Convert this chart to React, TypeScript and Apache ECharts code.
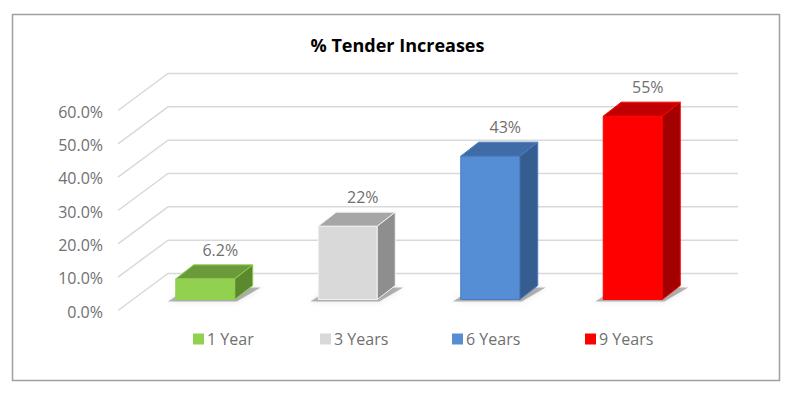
import React, { useEffect, useRef } from "react";
import * as echarts from "echarts";

const categories = ["1 Year", "3 Years", "6 Years", "9 Years"];
const values = [0.062, 0.22, 0.43, 0.55];
const valueLabels = ["6.2%", "22%", "43%", "55%"];
const yTicks = [0, 0.1, 0.2, 0.3, 0.4, 0.5, 0.6];
const yTickLabels = ["0.0%", "10.0%", "20.0%", "30.0%", "40.0%", "50.0%", "60.0%"];
const frontColors = ["#92D050", "#D9D9D9", "#558ED5", "#FF0000"];
const topColors = ["#6A9A3A", "#A6A6A6", "#3F6CA6", "#C00000"];
const sideColors = ["#5B8A2E", "#8E8E8E", "#365D90", "#A30000"];
const edgeColors = ["#92D050", "#F2F2F2", "#4A7CC0", "#FF0000"];
const title = "% Tender Increases";

const FONT = "'Open Sans', 'Noto Sans', sans-serif";
const TEXT_GRAY = "#707070";

export default function App() {
  const ref = useRef<HTMLDivElement>(null);
  useEffect(() => {
    if (!ref.current) return;
    const chart = echarts.init(ref.current, null, { renderer: "svg" });

    const FRONT_DX = -16, FRONT_DY = 11;
    const BACK_DX = 34, BACK_DY = -26;
    const HALF_W = 29.5, DEPTH_X = 18, DEPTH_Y = -14;

    const gridSeries: any = {
      type: "custom",
      name: "grid",
      z: 1,
      clip: false,
      silent: true,
      encode: { x: 0, y: 1 },
      data: yTicks.map((v, i) => [0, v, i]),
      renderItem: (params: any, api: any) => {
        const cs = params.coordSys;
        const v = api.value(1);
        const idx = api.value(2);
        const y = api.coord([0, v])[1];
        const fx = cs.x + FRONT_DX, fy = y + FRONT_DY;
        const bx = cs.x + BACK_DX, by = y + BACK_DY;
        const rx = cs.x + cs.width + BACK_DX;
        return {
          type: "group",
          children: [
            {
              type: "polyline",
              shape: { points: [[fx, fy], [bx, by], [rx, by]] },
              style: { stroke: "#D9D9D9", lineWidth: 1.5, fill: null },
            },
            {
              type: "text",
              x: fx - 15,
              y: fy + 1,
              style: {
                text: yTickLabels[idx],
                align: "right",
                verticalAlign: "middle",
                fill: TEXT_GRAY,
                font: `16px ${FONT}`,
              },
            },
          ],
        };
      },
    };

    const barSeries = categories.map((name, i) => ({
      type: "custom",
      name,
      z: 2,
      clip: false,
      itemStyle: { color: frontColors[i] },
      encode: { x: 0, y: 1 },
      data: [[i, values[i]]],
      renderItem: (params: any, api: any) => {
        const c = api.value(0);
        const top = api.coord([c, api.value(1)]);
        const base = api.coord([c, 0]);
        const l = top[0] - HALF_W, r = top[0] + HALF_W;
        const yt = top[1], yb = base[1];
        return {
          type: "group",
          children: [
            {
              type: "polygon",
              shape: {
                points: [
                  [l - 8, yb + 2],
                  [r + 2, yb + 2],
                  [r + DEPTH_X + 8, yb + DEPTH_Y + 2],
                  [l + DEPTH_X - 4, yb + DEPTH_Y + 2],
                ],
              },
              style: {
                fill: "rgba(0,0,0,0.28)",
                shadowBlur: 6,
                shadowColor: "rgba(0,0,0,0.35)",
              },
            },
            {
              type: "polygon",
              shape: { points: [[l, yb], [r, yb], [r, yt], [l, yt]] },
              style: { fill: frontColors[i], stroke: edgeColors[i], lineWidth: 1 },
            },
            {
              type: "polygon",
              shape: {
                points: [
                  [l, yt],
                  [r, yt],
                  [r + DEPTH_X, yt + DEPTH_Y],
                  [l + DEPTH_X, yt + DEPTH_Y],
                ],
              },
              style: { fill: topColors[i], stroke: edgeColors[i], lineWidth: 1 },
            },
            {
              type: "polygon",
              shape: {
                points: [
                  [r, yt],
                  [r + DEPTH_X, yt + DEPTH_Y],
                  [r + DEPTH_X, yb + DEPTH_Y],
                  [r, yb],
                ],
              },
              style: { fill: sideColors[i], stroke: edgeColors[i], lineWidth: 1 },
            },
            {
              type: "text",
              x: top[0] + 15,
              y: yt + DEPTH_Y - 15,
              style: {
                text: valueLabels[i],
                align: "center",
                verticalAlign: "middle",
                fill: TEXT_GRAY,
                font: `16px ${FONT}`,
              },
            },
          ],
        };
      },
    }));

    const legendLefts = [193, 320, 452, 585];

    chart.setOption({
      animation: false,
      backgroundColor: "#FFFFFF",
      title: {
        text: title,
        left: "center",
        top: 31,
        textStyle: { fontFamily: FONT, fontSize: 18, fontWeight: "bold", color: "#000000" },
      },
      legend: categories.map((name, i) => ({
        data: [name],
        left: legendLefts[i],
        top: 331,
        padding: 0,
        icon: "rect",
        itemWidth: 11,
        itemHeight: 11,
        selectedMode: false,
        textStyle: { fontFamily: FONT, fontSize: 16, color: TEXT_GRAY, padding: [0, 0, 0, -2] },
      })),
      grid: { left: 134, right: 91, top: 99.5, bottom: 93.5 },
      xAxis: {
        type: "category",
        data: categories,
        axisLine: { show: false },
        axisTick: { show: false },
        axisLabel: { show: false },
        splitLine: { show: false },
      },
      yAxis: {
        type: "value",
        min: 0,
        max: 0.6,
        interval: 0.1,
        axisLine: { show: false },
        axisTick: { show: false },
        axisLabel: { show: false },
        splitLine: { show: false },
      },
      graphic: [
        {
          type: "rect",
          shape: { x: 12.5, y: 14.5, width: 767, height: 366 },
          style: { fill: null, stroke: "#A0A0A0", lineWidth: 1.5 },
          silent: true,
          z: 0,
        },
      ],
      series: [gridSeries, ...barSeries],
    });

    return () => chart.dispose();
  }, []);

  return (
    <div
      ref={ref}
      style={{ position: "fixed", left: 0, top: 0, width: 795, height: 393 }}
    />
  );
}
